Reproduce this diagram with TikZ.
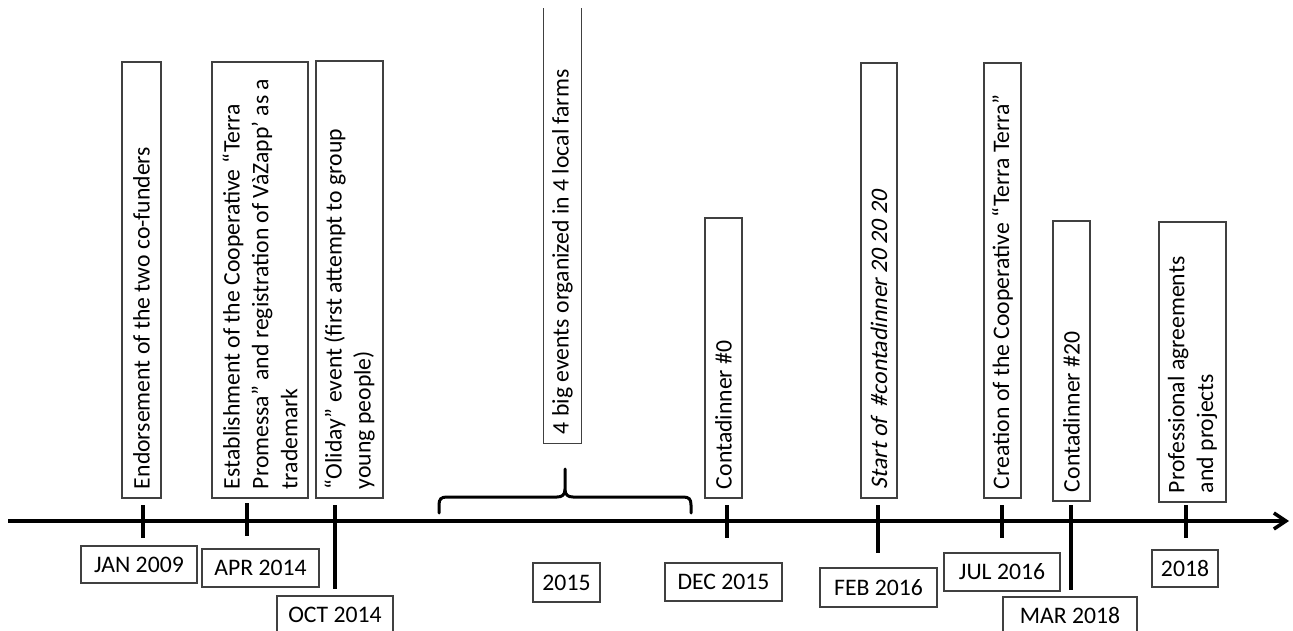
\documentclass[tikz,border=0pt]{standalone}
\usepackage{fontspec}
\setmainfont{Carlito}
\newfontfamily\slantfont{Carlito}[FakeSlant=0.2]
\usetikzlibrary{arrows.meta}
\begin{document}
\begin{tikzpicture}[x=1pt,y=-1pt,
  txt/.style={font=\fontsize{23.7}{28.9}\selectfont},
  boxline/.style={draw=black!75, line width=1.3pt},
  vbox/.style={boxline, txt, rotate=90, inner xsep=9pt, inner ysep=0pt, align=flush left},
  vopen/.style={vbox, draw=none},
  datebox/.style={boxline, txt, inner sep=0pt, align=center},
  axisline/.style={line width=3.5pt, -{Straight Barb[length=12pt,width=16pt]}},
  tickline/.style={line width=4pt},
  braceline/.style={line width=3pt, line join=round, line cap=round}
]
\useasboundingbox (0,0) rectangle (1293,631);
\clip (0,0) rectangle (1293,631);
\fill[white] (0,0) rectangle (1293,631);

% axis
\coordinate (axL) at (8,521);
\coordinate (axR) at (1289,521);
\draw[axisline] (axL) -- (axR);

% ticks
\draw[tickline] (142.5,505) -- (142.5,538);
\draw[tickline] (246.5,503) -- (246.5,536);
\draw[tickline] (335,505) -- (335,589);
\draw[tickline] (726.5,505) -- (726.5,538);
\draw[tickline] (878,505) -- (878,553);
\draw[tickline] (1001.5,505) -- (1001.5,538);
\draw[tickline] (1070.5,505) -- (1070.5,590);
\draw[tickline] (1186,505) -- (1186,538);

% brace
\draw[braceline] (439,513) -- (439,505) .. controls (439,499) and (441,497) .. (447,497)
  -- (557,497) .. controls (562,497) and (565,495) .. (565,489) -- (565,469)
  -- (565,489) .. controls (565,495) and (568,497) .. (573,497)
  -- (683,497) .. controls (689,497) and (691,499) .. (691,505) -- (691,513);

% event boxes (rotated)
\node[vbox, minimum width=436pt, minimum height=39pt, text width=418pt] (e1) at (141.5,280)
  {Endorsement of the two co-funders};
\node[vbox, minimum width=436pt, minimum height=96pt, text width=418pt] (e2) at (260,280)
  {Establishment of the Cooperative “Terra\\Promessa” and registration of VàZapp’ as a\\trademark};
\node[vbox, minimum width=437pt, minimum height=67pt, text width=419pt] (e3) at (349.5,279.5)
  {“Oliday” event (first attempt to group\\young people)};
\node[vopen, minimum width=434pt, minimum height=37pt, text width=416pt] (e4) at (562.5,226)
  {4 big events organized in 4 local farms};
\draw[boxline] (e4.north east) -- (e4.north west) -- (e4.south west) -- (e4.south east);
\node[vbox, minimum width=280pt, minimum height=37pt, text width=262pt] (e5) at (723.5,358)
  {Contadinner \#0};
\node[vbox, minimum width=435pt, minimum height=36pt, text width=417pt,
  font=\slantfont\fontsize{23.7}{28.9}\selectfont] (e6) at (879,280.5)
  {Start of\ \ \#contadinner 20 20 20};
\node[vbox, minimum width=435pt, minimum height=37pt, text width=417pt] (e7) at (1002.5,280.5)
  {Creation of the Cooperative “Terra Terra”};
\node[vbox, minimum width=280pt, minimum height=37pt, text width=262pt] (e8) at (1071.5,361)
  {Contadinner \#20};
\node[vbox, minimum width=280pt, minimum height=67pt, text width=262pt] (e9) at (1192.5,362)
  {Professional agreements\\and projects};

% date boxes
\node[datebox, minimum width=116pt, minimum height=37pt] (d1) at (139,564.5) {JAN 2009};
\node[datebox, minimum width=117pt, minimum height=38pt] (d2) at (260.5,568) {APR 2014};
\node[datebox, minimum width=116pt, minimum height=37pt] (d3) at (335,614.5) {OCT 2014};
\node[datebox, minimum width=67pt, minimum height=39pt] (d4) at (566.5,582.5) {2015};
\node[datebox, minimum width=117pt, minimum height=38pt] (d5) at (723.5,582) {DEC 2015};
\node[datebox, minimum width=117pt, minimum height=39pt] (d6) at (878.5,587.5) {FEB 2016};
\node[datebox, minimum width=116pt, minimum height=38pt] (d7) at (1002,572) {JUL 2016};
\node[datebox, minimum width=134pt, minimum height=37pt] (d8) at (1070,615.5) {MAR 2018};
\node[datebox, minimum width=66pt, minimum height=37pt] (d9) at (1185,568.5) {2018};
\end{tikzpicture}
\end{document}
